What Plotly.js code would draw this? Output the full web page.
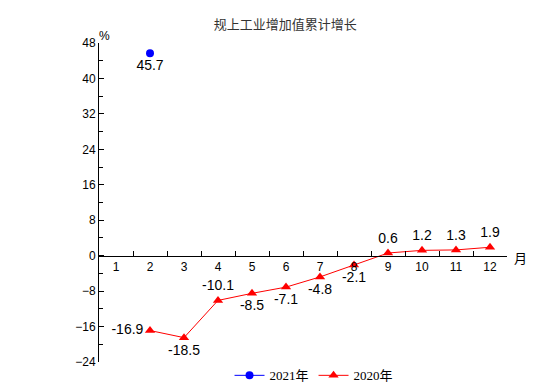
<!DOCTYPE html>
<html>
<head>
<meta charset="utf-8">
<script src="https://cdn.plot.ly/plotly-3.0.1.min.js"></script>
<style>html,body{margin:0;padding:0;background:#fff;}#chart{width:554px;height:387px;}</style>
</head>
<body>
<div id="chart"></div>
<script>
const months = ["1","2","3","4","5","6","7","8","9","10","11","12"];
const months2021 = ["2"];
const values2021 = [45.7];
const months2020 = ["2","3","4","5","6","7","8","9","10","11","12"];
const values2020 = [-16.9,-18.5,-10.1,-8.5,-7.1,-4.8,-2.1,0.6,1.2,1.3,1.9];
const labelPos2020 = ["middle left","bottom center","top center","bottom center","bottom center","bottom center","bottom center","top center","top center","top center","top center"];

const txtFont = {family:"Liberation Sans, Arial, sans-serif", size:14, color:"#000"};

const traces = [
  {
    x: months2021, y: values2021, name: "2021年", type: "scatter", mode: "lines+markers+text",
    line: {color:"#0000ff", width:1}, marker: {symbol:"circle", size:8, color:"#0000ff"},
    text: values2021.map(v=>v.toFixed(1)), textposition: "bottom center", textfont: txtFont,
    cliponaxis: false
  },
  {
    x: months2020, y: values2020, name: "2020年", type: "scatter", mode: "lines+markers+text",
    line: {color:"#ff0000", width:1}, marker: {symbol:"triangle-up", size:9, color:"#ff0000"},
    text: values2020.map(v=>v.toFixed(1)), textposition: labelPos2020, textfont: txtFont,
    cliponaxis: false
  }
];

const layout = {
  width: 554, height: 387,
  margin: {l:99, r:47, t:43, b:25, autoexpand: false},
  paper_bgcolor: "#fff", plot_bgcolor: "#fff",
  title: {text: "规上工业增加值累计增长", x: 0.515, xanchor: "center", y: 0.938, yanchor: "middle",
          font: {family: "Noto Sans CJK SC, sans-serif", size: 13, color: "#333"}},
  showlegend: true,
  legend: {orientation: "h", x: 0.527, xanchor: "center", yref: "container", y: 0.03, yanchor: "middle",
           font: {family: "Liberation Serif, Noto Sans CJK SC, serif", size: 13, color: "#000"},
           bgcolor: "rgba(0,0,0,0)"},
  xaxis: {
    type: "category", categoryorder: "array", categoryarray: months,
    range: [-0.5, 11.5], anchor: "free", position: 1/3,
    showline: true, linecolor: "#000", linewidth: 1,
    ticks: "inside", ticklen: 5, tickcolor: "#000", tickson: "boundaries",
    showgrid: false, zeroline: false,
    tickfont: {family: "Liberation Sans, Arial, sans-serif", size: 12, color: "#000"}
  },
  yaxis: {
    range: [-24, 48], tick0: 0, dtick: 8, tickmode: "linear",
    showline: true, linecolor: "#000", linewidth: 1,
    ticks: "inside", ticklen: 5, tickcolor: "#000",
    minor: {dtick: 4, ticks: "inside", ticklen: 4, tickcolor: "#000", showgrid: false},
    showgrid: false, zeroline: false,
    tickfont: {family: "Liberation Sans, Arial, sans-serif", size: 12, color: "#000"}
  },
  annotations: [
    {text: "%", xref: "paper", yref: "paper", x: 0.0, y: 1.0, xanchor: "center", yanchor: "bottom",
     xshift: 5, yshift: -2, showarrow: false,
     font: {family: "Liberation Sans, Arial, sans-serif", size: 12, color: "#000"}},
    {text: "月", xref: "paper", yref: "paper", x: 1.0, y: 1/3, xanchor: "left", yanchor: "middle",
     xshift: 5, yshift: -2, showarrow: false,
     font: {family: "Noto Sans CJK SC, sans-serif", size: 13, color: "#000"}}
  ]
};

Plotly.newPlot("chart", traces, layout, {displayModeBar: false, staticPlot: true});
</script>
</body>
</html>
